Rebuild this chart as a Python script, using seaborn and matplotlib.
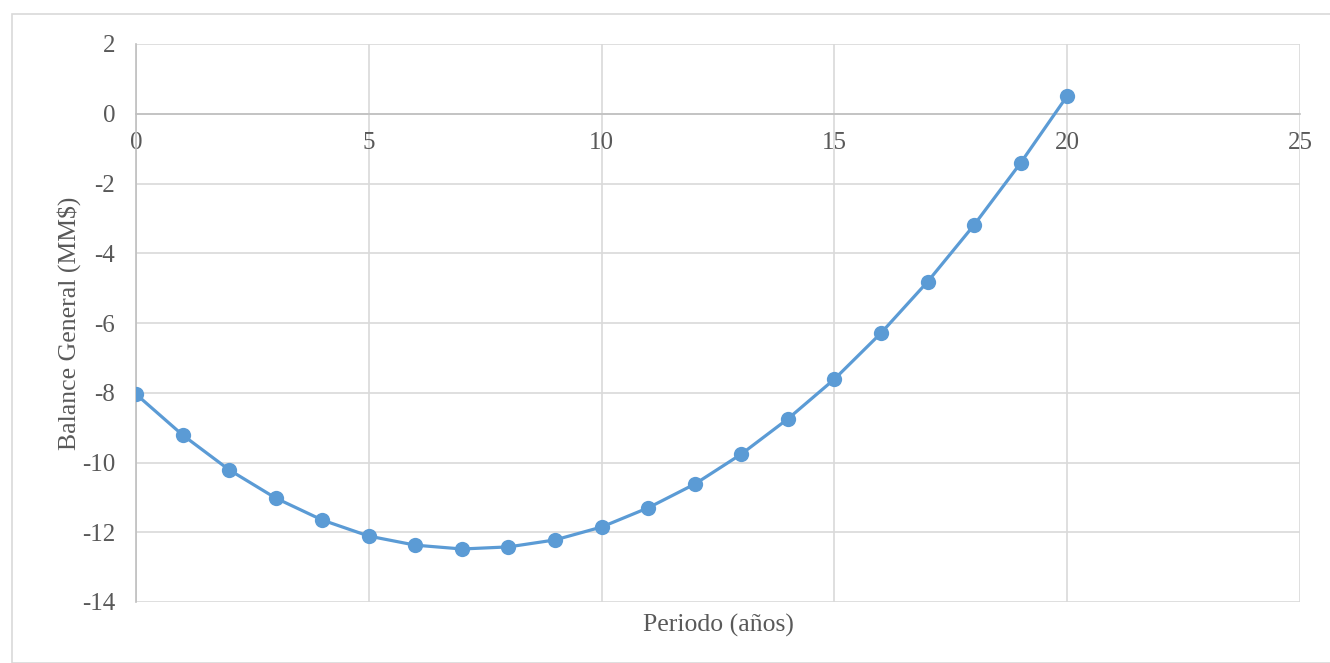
import matplotlib
matplotlib.use("Agg")
import matplotlib.pyplot as plt
import seaborn as sns
import pandas as pd
from matplotlib.patches import Rectangle

periodo = [0, 1, 2, 3, 4, 5, 6, 7, 8, 9, 10, 11, 12, 13, 14, 15, 16, 17, 18, 19, 20]
balance = [-8.04, -9.21, -10.21, -11.02, -11.65, -12.11, -12.37, -12.48, -12.42, -12.22,
           -11.85, -11.30, -10.62, -9.76, -8.75, -7.61, -6.29, -4.82, -3.19, -1.41, 0.51]
x_ticks = [0, 5, 10, 15, 20, 25]
y_ticks = [2, 0, -2, -4, -6, -8, -10, -12, -14]

df = pd.DataFrame({"Periodo": periodo, "Balance": balance})

sns.set_theme(style="white")
plt.rcParams["font.family"] = ["Liberation Serif", "DejaVu Serif"]

fig = plt.figure(figsize=(13.3, 6.63), dpi=100)
ax = fig.add_axes([136/1330, 1-602/663, (1300-136)/1330, (602-44)/663])

sns.lineplot(data=df, x="Periodo", y="Balance", ax=ax, color="#5b9bd5",
             linewidth=2.3, marker="o", markersize=11, markeredgewidth=0, zorder=3)

ax.set_xlim(0, 25)
ax.set_ylim(-14, 2)
ax.set_xticks(x_ticks)
ax.set_yticks(y_ticks)
ax.set_xticklabels([str(t) for t in x_ticks])
ax.set_yticklabels([str(t) for t in y_ticks])
ax.grid(True, color="#d9d9d9", linewidth=1.2)
ax.set_axisbelow(True)

for s in ["top", "right"]:
    ax.spines[s].set_visible(False)
ax.spines["bottom"].set_position(("data", 0))
ax.spines["bottom"].set_color("#bfbfbf")
ax.spines["bottom"].set_linewidth(1.2)
ax.spines["left"].set_color("#bfbfbf")
ax.spines["left"].set_linewidth(1.2)

ax.tick_params(axis="both", length=0, labelsize=18, colors="#595959")
ax.tick_params(axis="x", pad=13)
ax.tick_params(axis="y", pad=15)

ax.set_xlabel("Periodo (años)", fontsize=18.5, color="#595959")
ax.set_ylabel("Balance General (MM$)", fontsize=18.5, color="#595959")
ax.xaxis.set_label_coords(0.5, -0.021)
ax.yaxis.set_label_coords(-0.047, 0.5)

fig.patches.append(Rectangle((12/1330, 0), 1 - 12/1330 + 0.01, 1 - 14/663,
                             transform=fig.transFigure, fill=False,
                             edgecolor="#d9d9d9", linewidth=1.2))

fig.savefig("out.png", dpi=100, facecolor="white")
